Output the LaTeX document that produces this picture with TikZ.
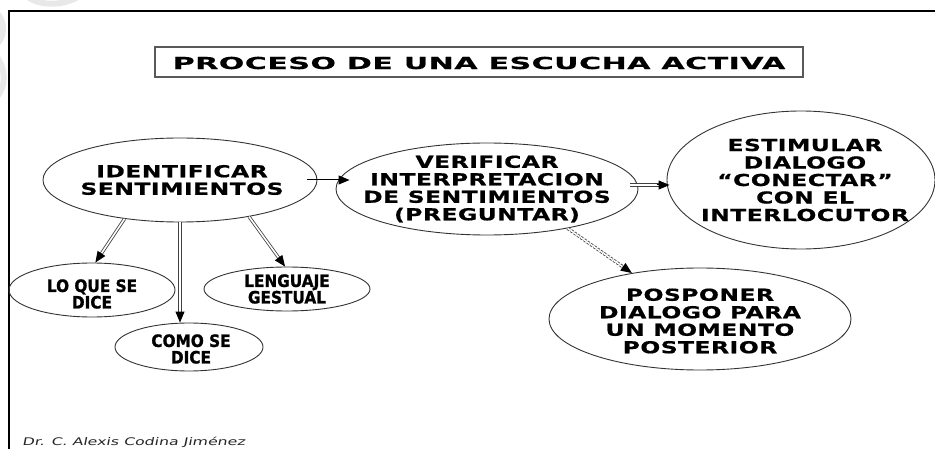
\documentclass[tikz,border=0pt]{standalone}
\usepackage{fontspec}
\usetikzlibrary{arrows.meta,shapes.geometric,calc}
\newfontfamily\nodefont{DejaVu Sans}[FakeStretch=1.42,LetterSpace=3,FakeBold=0.6]
\newfontfamily\titlefont{DejaVu Sans}[FakeStretch=1.82,LetterSpace=3,FakeBold=0.6]
\newfontfamily\smallfont{DejaVu Sans}[FakeStretch=0.9,FakeBold=1.2]
\newfontfamily\authfont{DejaVu Sans}[FakeStretch=1.5,FakeSlant=0.2]
\tikzset{
  ell/.style={ellipse, draw=black!80, line width=0.9pt, inner sep=0pt},
  bigtxt/.style={font=\nodefont\bfseries\fontsize{16.5}{17.5}\selectfont, align=center, inner sep=0pt},
  smalltxt/.style={font=\smallfont\bfseries\fontsize{17}{16.5}\selectfont, align=center, inner sep=0pt},
  tipar/.style={-{Triangle[length=11pt,width=9pt]}, line width=1pt, draw=black},
  dbl/.style={double=white, double distance=1.6pt, line width=0.8pt, draw=black!75},
  wm/.style={gray!18, line width=6pt},
}
\begin{document}
\begin{tikzpicture}[x=1pt,y=-1pt]
\useasboundingbox (0,0) rectangle (935,449);
% faint watermark
\draw[wm] (28,-3) .. controls (40,6) and (62,6) .. (78,-3);
\draw[wm] (-3,13) .. controls (5,22) and (5,36) .. (-3,44);
\draw[wm] (-3,57) .. controls (6,70) and (6,86) .. (-3,97);
% frame
\draw[line width=1.3pt] (9,449) -- (9,11) -- (935,11);
% title
\node[draw=black!65, line width=1.2pt, minimum width=648pt, minimum height=30pt, inner sep=0pt] (title) at (479,62) {};
\node[font=\titlefont\bfseries\fontsize{16.5}{18}\selectfont, inner sep=0pt] (titleT) at (479,63) {PROCESO DE UNA ESCUCHA ACTIVA};
% ellipses
\node[ell, minimum width=274pt, minimum height=84pt] (ident) at (180,180) {};
\node[bigtxt] (identT) at (182,180) {IDENTIFICAR\\SENTIMIENTOS};
\node[ell, minimum width=302pt, minimum height=92pt] (verif) at (487,189) {};
\node[bigtxt] (verifT) at (487,189) {VERIFICAR\\INTERPRETACION\\DE SENTIMIENTOS\\(PREGUNTAR)};
\node[ell, minimum width=268pt, minimum height=138pt] (estim) at (801,180) {};
\node[bigtxt] (estimT) at (805,180) {ESTIMULAR\\DIALOGO\\“CONECTAR”\\CON EL\\INTERLOCUTOR};
\node[ell, minimum width=302pt, minimum height=102pt] (posp) at (700,319) {};
\node[bigtxt] (pospT) at (700,321) {POSPONER\\DIALOGO PARA\\UN MOMENTO\\POSTERIOR};
\node[ell, minimum width=166pt, minimum height=54pt] (loque) at (92,290) {};
\node[smalltxt] (loqueT) at (92,294) {LO QUE SE\\DICE};
\node[ell, minimum width=166pt, minimum height=44pt] (leng) at (287,289) {};
\node[smalltxt] (lengT) at (287,289) {LENGUAJE\\GESTUAL};
\node[ell, minimum width=148pt, minimum height=48pt] (como) at (189,347) {};
\node[smalltxt] (comoT) at (191,349) {COMO SE\\DICE};
% author
\node[font=\authfont\fontsize{10.5}{12}\selectfont, text=black!85, anchor=west, inner sep=0pt] (author) at (22,442) {Dr. C. Alexis Codina Jiménez};
% connectors
\draw[dbl, shorten >=9pt] (ident.215) -- (loque.83);
\draw[tipar] ($(loque.83)!11pt!(ident.215)$) -- (loque.83);
\coordinate (cs) at (ident.south);
\coordinate (ce) at (cs |- como.north);
\draw[dbl, shorten >=9pt] (cs) -- (ce);
\draw[tipar] ($(ce)!11pt!(cs)$) -- (ce);
\draw[dbl, shorten >=9pt] (ident.-28) -- (leng.95);
\draw[tipar] ($(leng.95)!11pt!(ident.-28)$) -- (leng.95);
\draw[tipar, shorten <=-10pt, shorten >=-14pt] (ident.east) -- (ident.east -| verif.west);
\coordinate (vs) at ([xshift=-8pt,yshift=4pt]verif.east);
\coordinate (ve) at ([xshift=3pt]vs -| estim.west);
\draw[dbl, shorten >=10pt] (vs) -- (ve);
\draw[tipar] ($(ve)+(-13,0)$) -- (ve);
\draw[dbl, dash pattern=on 2.5pt off 1.5pt, shorten >=9pt] (verif.-26) -- (posp.146);
\draw[tipar] ($(posp.146)!11pt!(verif.-26)$) -- (posp.146);
\end{tikzpicture}
\end{document}
